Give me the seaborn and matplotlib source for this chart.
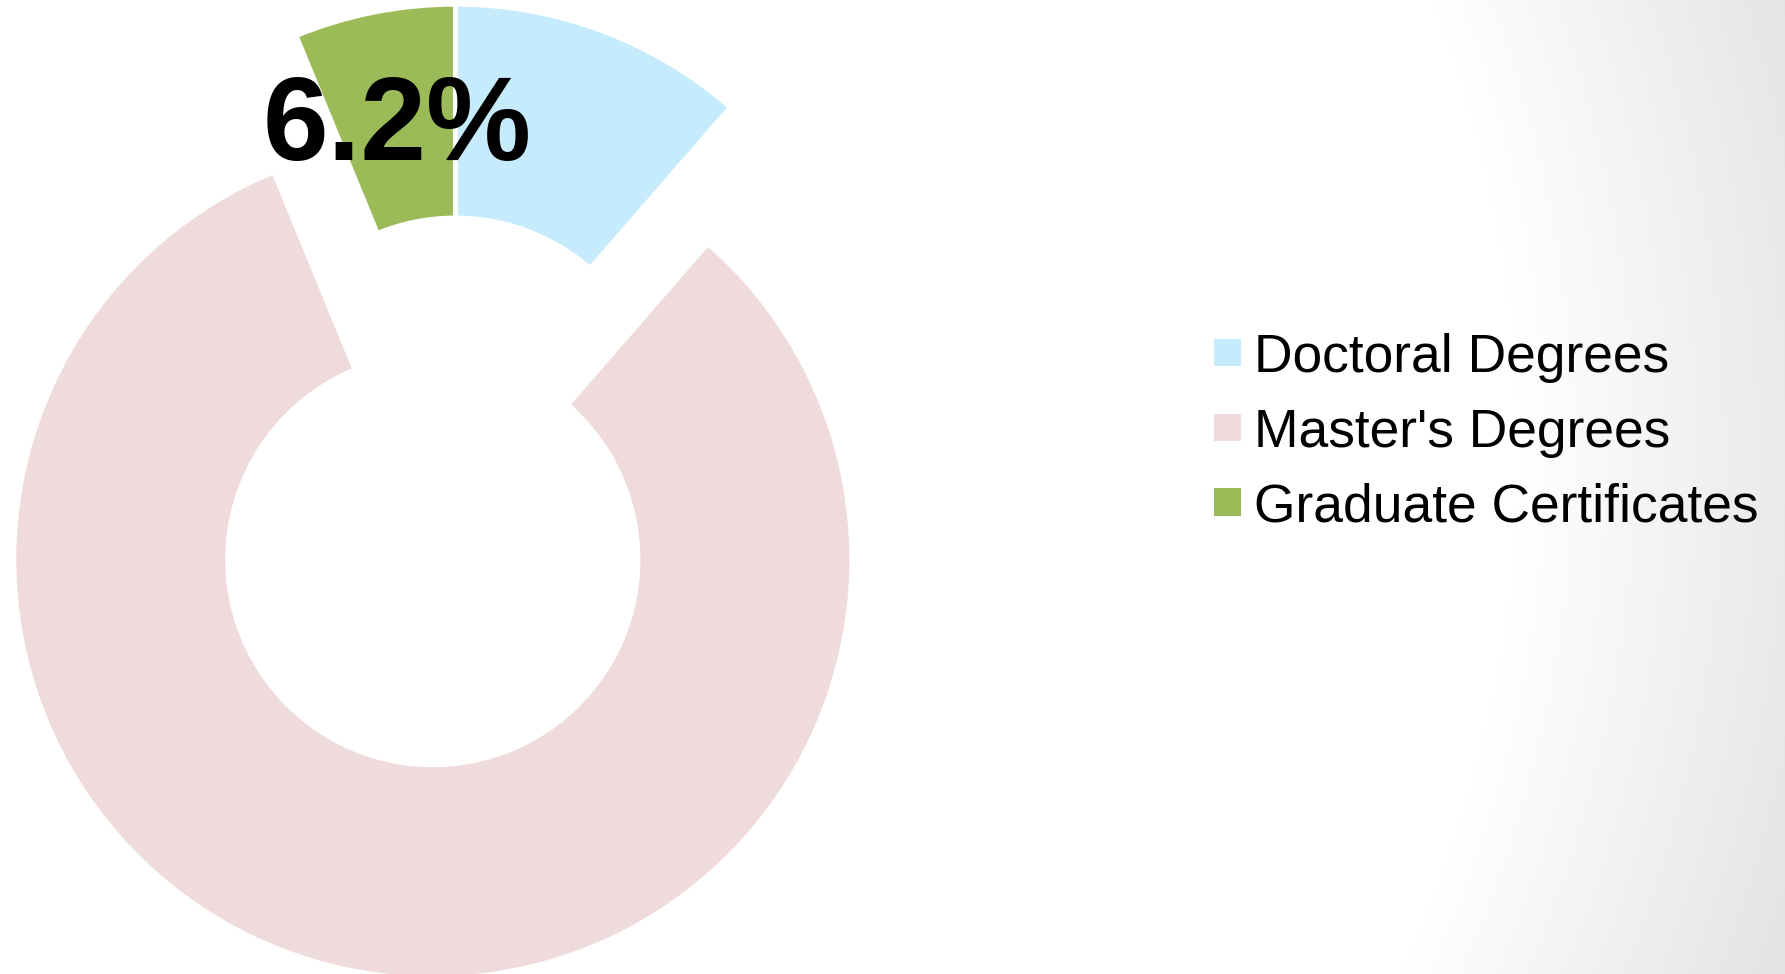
import numpy as np
import matplotlib
matplotlib.use("Agg")
import matplotlib.pyplot as plt
from matplotlib.patches import Patch
import seaborn as sns

# Data
categories = ["Doctoral Degrees", "Master's Degrees", "Graduate Certificates"]
shares = [11.4, 82.4, 6.2]
slice_colors = ["#C5EBFC", "#F0DBDC", "#9BBB59"]
explode = [0, 0.33, 0]

sns.set_theme(style="white")
plt.rcParams["font.family"] = ["Liberation Sans", "DejaVu Sans"]

W, H = 1785, 974
fig = plt.figure(figsize=(W / 100, H / 100), dpi=100)

# soft radial grey gradient towards the right edge
yy, xx = np.mgrid[0:H, 0:W]
d = np.hypot(xx - 311, yy - 450)
dark = np.clip(0.079 * (d - 1208), 0, None)
grey = (255 - dark) / 255
bg = fig.add_axes([0, 0, 1, 1], zorder=0)
bg.imshow(np.dstack([grey, grey, grey]), extent=[0, W, H, 0], aspect="auto")
bg.axis("off")

ax = fig.add_axes([0, 0, 1, 1], zorder=1)
ax.set_facecolor("none")
palette = sns.color_palette(slice_colors)

wedges, texts, autotexts = ax.pie(
    shares,
    colors=palette,
    startangle=90,
    counterclock=False,
    explode=explode,
    autopct=lambda p: f"{p:.1f}%" if p < 10 else "",
    pctdistance=0.715,
    wedgeprops=dict(width=0.51, edgecolor="white", linewidth=3.4),
    textprops=dict(fontsize=85, fontweight="bold", color="black"),
)

# place the pie: 1 data unit = R pixels, centre at (cx, cy) in image pixels
R, cx, cy = 418.9, 455.3, 423.2
ax.set_xlim(-cx / R, (W - cx) / R)
ax.set_ylim(-(H - cy) / R, cy / R)
ax.set_aspect("auto")
ax.axis("off")

handles = [Patch(facecolor=c, edgecolor="none") for c in palette]
fig.legend(
    handles, categories,
    loc="center left",
    bbox_to_anchor=(1214 / W, 1 - 432.5 / H),
    bbox_transform=fig.transFigure,
    frameon=False,
    fontsize=38.4,
    labelcolor="black",
    handlelength=0.505,
    handleheight=0.405,
    handletextpad=0.25,
    labelspacing=0.46,
    borderpad=0,
    borderaxespad=0,
)

fig.savefig("out.png", dpi=100)
